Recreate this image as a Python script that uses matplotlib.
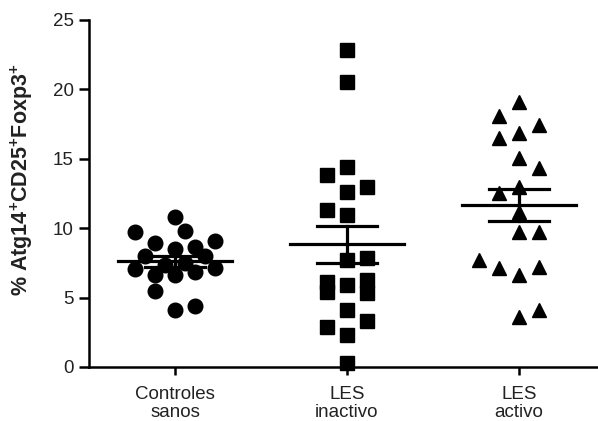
import matplotlib.pyplot as plt
import numpy as np

plt.rcParams['font.family'] = ['Liberation Sans', 'DejaVu Sans']
plt.rcParams['mathtext.fontset'] = 'custom'
plt.rcParams['mathtext.rm'] = 'Liberation Sans'
plt.rcParams['mathtext.bf'] = 'Liberation Sans:bold'

groups = ["Controles\nsanos", "LES\ninactivo", "LES\nactivo"]
markers = ["o", "s", "^"]

# values (% of cells)
controles = [10.83, 9.70, 9.80, 9.10, 8.90, 8.48, 8.67, 8.00, 8.00, 7.04,
             7.35, 7.47, 6.63, 6.63, 6.87, 7.10, 5.50, 4.10, 4.40]
controles_col = [0, -4, 1, 4, -2, 0, 2, -3, 3, -4, -1, 1, -2, 0, 2, 4, -2, 0, 2]

inactivo = [22.84, 20.56, 14.43, 13.83, 12.99, 12.58, 11.31, 10.95, 7.71, 7.83,
            6.15, 5.43, 5.91, 6.27, 5.31, 4.11, 3.31, 2.90, 2.30, 0.27]
inactivo_col = [0, 0, 0, -2, 2, 0, -2, 0, 0, 2, -2, -2, 0, 2, 2, 0, 2, -2, 0, 0]

activo = [19.11, 18.08, 17.44, 16.83, 16.47, 15.03, 14.31, 12.99, 12.51, 11.19,
          9.75, 9.75, 7.71, 7.11, 6.63, 7.18, 3.62, 4.11]
activo_col = [0, -2, 2, 0, -2, 0, 2, 0, -2, 0, 0, 2, -4, -2, 0, 2, 0, 2]

series = [(controles, controles_col), (inactivo, inactivo_col), (activo, activo_col)]

fig = plt.figure(figsize=(5.98, 4.21), dpi=100)
ax = fig.add_axes([0.1488, 0.1283, 0.8512, 0.8242])

step = 10 / 172.0  # one jitter column in category units
msize = {"o": 10.5, "s": 10.5, "^": 10}
for i, (vals, cols) in enumerate(series):
    vals = np.array(vals)
    xs = i + np.array(cols) * step
    ax.plot(xs, vals, linestyle='none', marker=markers[i], color='black',
            markersize=msize[markers[i]], clip_on=False, zorder=3)
    # mean +/- SEM
    m = vals.mean()
    sem = vals.std(ddof=1) / np.sqrt(len(vals))
    ax.plot([i - 0.33, i + 0.33], [m, m], color='black', lw=2.3, zorder=4)
    ax.plot([i - 0.175, i + 0.175], [m + sem, m + sem], color='black', lw=2.3, zorder=4)
    ax.plot([i - 0.175, i + 0.175], [m - sem, m - sem], color='black', lw=2.3, zorder=4)
    ax.plot([i, i], [m - sem, m + sem], color='black', lw=2.3, zorder=4)

ax.set_xlim(-0.5, 2.46)
ax.set_ylim(0, 25)
ax.set_yticks([0, 5, 10, 15, 20, 25])
ax.set_xticks(range(3))
ax.set_xticklabels(groups, fontsize=13.5, linespacing=1.05, color='#222222')
ax.tick_params(axis='y', labelsize=13.5, length=7, width=1.8, pad=4, labelcolor='#222222')
ax.tick_params(axis='x', length=6, width=1.8, pad=8)
for s in ['top', 'right']:
    ax.spines[s].set_visible(False)
for s in ['left', 'bottom']:
    ax.spines[s].set_linewidth(1.8)

ax.set_ylabel(r'% Atg14$^{\mathbf{+}}$CD25$^{\mathbf{+}}$Foxp3$^{\mathbf{+}}$',
              fontsize=15.5, fontweight='bold', color='#222222')
ax.yaxis.set_label_coords(-0.106, 0.54)

fig.savefig('out.png', dpi=100)
